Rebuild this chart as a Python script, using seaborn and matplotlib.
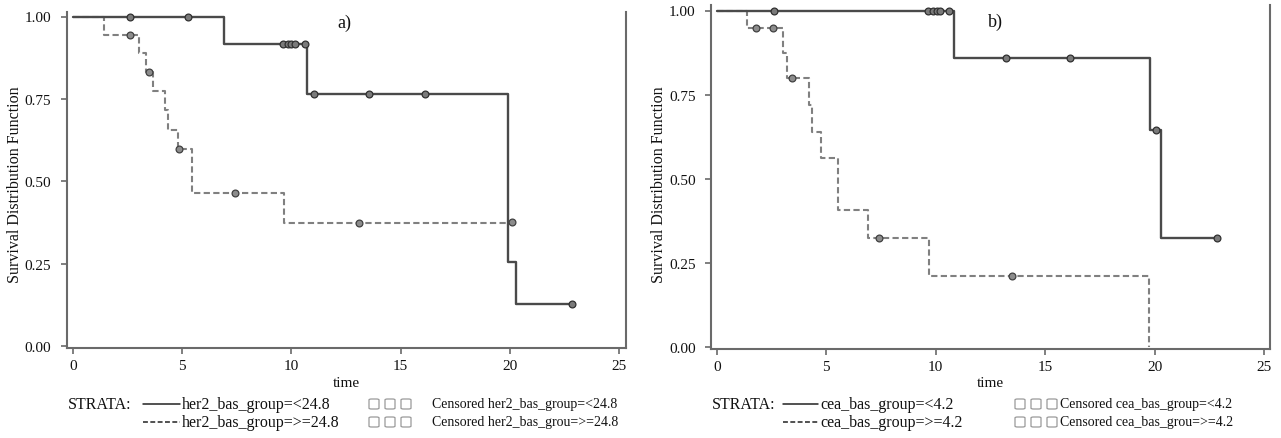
import matplotlib
matplotlib.use("Agg")
import matplotlib.pyplot as plt
import seaborn as sns
import pandas as pd
from matplotlib.lines import Line2D
from matplotlib.patches import FancyBboxPatch

# ---------------- data ----------------
# Panel a) her2
a_low_time = [0.0, 6.9, 10.7, 19.9, 20.3, 22.85]
a_low_surv = [1.0, 0.917, 0.764, 0.255, 0.127, 0.127]
a_low_cens_time = [2.6, 5.25, 9.6, 9.83, 10.0, 10.15, 10.6, 11.05, 13.55, 16.1, 22.85]
a_low_cens_surv = [1.0, 1.0, 0.917, 0.917, 0.917, 0.917, 0.917, 0.764, 0.764, 0.764, 0.127]

a_high_time = [0.0, 1.4, 3.0, 3.33, 3.65, 4.2, 4.34, 4.8, 5.43, 9.64, 20.1]
a_high_surv = [1.0, 0.944, 0.889, 0.833, 0.775, 0.716, 0.657, 0.598, 0.465, 0.372, 0.372]
a_high_cens_time = [2.6, 3.5, 4.85, 7.4, 13.1, 20.1]
a_high_cens_surv = [0.944, 0.833, 0.598, 0.465, 0.372, 0.376]

# Panel b) cea
b_low_time = [0.0, 10.82, 19.8, 20.3, 22.85]
b_low_surv = [1.0, 0.86, 0.645, 0.323, 0.323]
b_low_cens_time = [2.6, 9.64, 9.89, 10.07, 10.2, 10.6, 13.2, 16.15, 20.05, 22.85]
b_low_cens_surv = [1.0, 1.0, 1.0, 1.0, 1.0, 1.0, 0.86, 0.86, 0.645, 0.323]

b_high_time = [0.0, 1.4, 3.03, 3.22, 4.2, 4.34, 4.78, 5.56, 6.93, 9.68, 19.76]
b_high_surv = [1.0, 0.947, 0.874, 0.80, 0.72, 0.64, 0.563, 0.407, 0.323, 0.212, 0.0]
b_high_cens_time = [1.78, 2.55, 3.46, 7.4, 13.5]
b_high_cens_surv = [0.947, 0.947, 0.80, 0.323, 0.212]

x_ticks = [0, 5, 10, 15, 20, 25]
y_ticks = [0.0, 0.25, 0.50, 0.75, 1.00]
y_tick_labels = ["0.00", "0.25", "0.50", "0.75", "1.00"]

panel_letters = ["a)", "b)"]
strata_a = ["her2_bas_group=<24.8", "her2_bas_group=>=24.8"]
cens_a = ["Censored her2_bas_group=<24.8", "Censored her2_bas_grou=>=24.8"]
strata_b = ["cea_bas_group=<4.2", "cea_bas_group=>=4.2"]
cens_b = ["Censored cea_bas_group=<4.2", "Censored cea_bas_grou=>=4.2"]

# ---------------- style ----------------
sns.set_style("white")
plt.rcParams["font.family"] = ["Liberation Serif", "DejaVu Serif"]

W, H = 1281, 439
fig = plt.figure(figsize=(W / 100, H / 100), dpi=100)

def fx(px):
    return px / W

def fy(py):
    return 1 - py / H

SOLID_C = "#4a4a4a"
DASH_C = "#808080"
SPINE_C = "#6a6a6a"

def make_axes(left_px, right_px, top1_px, zero_px):
    per = zero_px - top1_px
    ylo, yhi = -0.005, 1.015
    top_px = zero_px - yhi * per
    bot_px = zero_px - ylo * per
    ax = fig.add_axes([fx(left_px), fy(bot_px), (right_px - left_px) / W, (bot_px - top_px) / H])
    ax.set_ylim(ylo, yhi)
    return ax, bot_px, top_px

panels = [
    dict(left=66.7, right=625.5, top1=17.5, zero=347.0, xlim=(-0.29, 25.29),
         low=(a_low_time, a_low_surv, a_low_cens_time, a_low_cens_surv),
         high=(a_high_time, a_high_surv, a_high_cens_time, a_high_cens_surv),
         letter=panel_letters[0], letter_xy=(12.4, 0.983),
         strata=strata_a, cens=cens_a,
         strata_x=68, line_x=(143, 180), text_x=182, sq_x=[374, 390, 406], cens_x=432),
    dict(left=711.0, right=1270.0, top1=11.5, zero=348.0, xlim=(-0.26, 25.27),
         low=(b_low_time, b_low_surv, b_low_cens_time, b_low_cens_surv),
         high=(b_high_time, b_high_surv, b_high_cens_time, b_high_cens_surv),
         letter=panel_letters[1], letter_xy=(12.75, 0.967),
         strata=strata_b, cens=cens_b,
         strata_x=712, line_x=(783, 818), text_x=820, sq_x=[1020, 1036, 1052], cens_x=1060),
]

for p in panels:
    ax, bot_px, top_px = make_axes(p["left"], p["right"], p["top1"], p["zero"])
    ax.set_xlim(*p["xlim"])

    lt, ls, lct, lcs = p["low"]
    ht, hs, hct, hcs = p["high"]
    df_low = pd.DataFrame({"time": lt, "surv": ls})
    df_high = pd.DataFrame({"time": ht, "surv": hs})
    sns.lineplot(data=df_high, x="time", y="surv", ax=ax, estimator=None, sort=False,
                 drawstyle="steps-post", color=DASH_C, lw=1.5, dashes=False,
                 linestyle=(0, (3, 1.6)))
    sns.lineplot(data=df_low, x="time", y="surv", ax=ax, estimator=None, sort=False,
                 drawstyle="steps-post", color=SOLID_C, lw=1.7)

    df_lc = pd.DataFrame({"time": lct, "surv": lcs})
    df_hc = pd.DataFrame({"time": hct, "surv": hcs})
    sns.scatterplot(data=df_hc, x="time", y="surv", ax=ax, s=24, color="#8c8c8c",
                    edgecolor="#404040", linewidth=0.9, zorder=4)
    sns.scatterplot(data=df_lc, x="time", y="surv", ax=ax, s=24, color="#7a7a7a",
                    edgecolor="#303030", linewidth=0.9, zorder=4)

    ax.set_xticks(x_ticks)
    ax.set_xticklabels([str(t) for t in x_ticks])
    ax.set_yticks(y_ticks)
    ax.set_yticklabels(y_tick_labels)
    ax.tick_params(axis="both", direction="out", length=4, width=1.2, color=SPINE_C,
                   labelsize=11, labelcolor="#111111")
    ax.tick_params(axis="x", pad=4)
    ax.tick_params(axis="y", pad=7)
    ax.tick_params(bottom=True, left=True)

    for side in ["left", "bottom", "right"]:
        ax.spines[side].set_visible(True)
        ax.spines[side].set_color(SPINE_C)
        ax.spines[side].set_linewidth(1.5)
    ax.spines["top"].set_visible(False)

    ax.set_xlabel("")
    ax.set_ylabel("Survival Distribution Function", fontsize=11.5, color="#111111")
    ylab_cy = 184.5
    ylab_cx = p["left"] - 51.7
    ax.yaxis.set_label_coords((ylab_cx - p["left"]) / (p["right"] - p["left"]),
                              (bot_px - ylab_cy) / (bot_px - top_px))
    ax.yaxis.label.set_va("center")

    ax.text(p["letter_xy"][0], p["letter_xy"][1], p["letter"], fontsize=13,
            ha="center", va="center", color="#111111")

    # "time" label
    cx = (p["left"] + p["right"]) / 2
    fig.text(fx(cx), fy(384), "time", fontsize=11, ha="center", va="center", color="#111111")

    # legend block
    fig.text(fx(p["strata_x"]), fy(405), "STRATA:", fontsize=11.5, ha="left", va="center",
             color="#111111")
    for i, yy in enumerate([405, 423]):
        ls_ = "-" if i == 0 else (0, (3.2, 1.6))
        fig.add_artist(Line2D([fx(p["line_x"][0]), fx(p["line_x"][1])], [fy(yy), fy(yy)],
                              transform=fig.transFigure, color="#222222", lw=1.1, linestyle=ls_))
        fig.text(fx(p["text_x"]), fy(yy), p["strata"][i], fontsize=11.5, ha="left",
                 va="center", color="#111111")
        for sx in p["sq_x"]:
            sz = 10
            fig.add_artist(FancyBboxPatch((fx(sx - sz / 2), fy(yy + sz / 2)), sz / W, sz / H,
                                          boxstyle="round,pad=0,rounding_size=0.002",
                                          transform=fig.transFigure, facecolor="white",
                                          edgecolor="#9a9a9a", lw=0.9))
        fig.text(fx(p["cens_x"]), fy(yy), p["cens"][i], fontsize=10, ha="left",
                 va="center", color="#111111")

fig.savefig("out.png", dpi=100)
